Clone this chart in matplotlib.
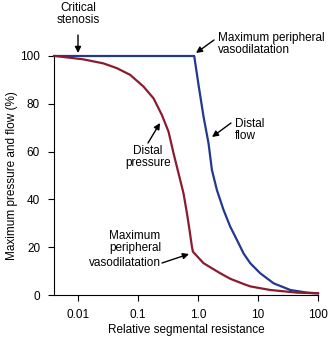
import numpy as np
import matplotlib
matplotlib.use('Agg')
from matplotlib import pyplot as plt

plt.rcParams['font.family'] = ['Liberation Sans', 'DejaVu Sans']

# values
flow_x = [0.004, 0.867, 1.02, 1.24, 1.5, 1.71, 2.07, 2.67, 3.45, 4.47, 5.75, 7.44, 10.9, 18.2, 34.5,
          65.6, 100]
flow_y = [100, 100, 88.1, 74.6, 63.5, 52.3, 43.9, 35.6, 28.6, 23.0, 17.4, 13.3, 9.1, 4.9, 2.1,
          1.0, 0.7]

pressure_x = [0.0042, 0.0123, 0.0267, 0.0447, 0.0744, 0.124, 0.182, 0.251, 0.324, 0.392, 0.475, 0.575,
              0.656, 0.724, 0.794, 0.826, 1.24, 2.35, 3.45, 5.76, 7.44, 16.0, 44.7, 100]
pressure_y = [100, 98.6, 96.9, 94.9, 92.1, 87.2, 82.3, 75.3, 68.3, 59.3, 50.9, 42.5,
              34.2, 27.2, 20.2, 18.1, 13.3, 9.1, 6.8, 4.6, 3.6, 2.1, 1.0, 0.7]

x_ticks = [0.01, 0.1, 1.0, 10, 100]
x_tick_labels = ['0.01', '0.1', '1.0', '10', '100']
y_ticks = [0, 20, 40, 60, 80, 100]

blue = '#23388f'
red = '#8a1c30'

W, H = 329, 341
fig = plt.figure(figsize=(W / 100, H / 100), dpi=100)
ax = fig.add_axes([54 / W, 1 - 295 / H, (318 - 54) / W, (295 - 56) / H])


def px(x, y):
    # pixel position in the image -> figure fraction
    return (x / W, 1 - y / H)


ax.plot(flow_x, flow_y, color=blue, lw=1.6, clip_on=False, zorder=3)
ax.plot(pressure_x, pressure_y, color=red, lw=1.6, clip_on=False, zorder=3)

ax.set_xscale('log')
ax.set_xlim(0.004, 100)
ax.set_ylim(0, 100)
ax.set_xticks(x_ticks)
ax.set_xticklabels(x_tick_labels)
ax.minorticks_off()
ax.set_yticks(y_ticks)
ax.spines['top'].set_visible(False)
ax.spines['right'].set_visible(False)
ax.tick_params(direction='out', length=4, width=0.8, labelsize=8.5, pad=6)
ax.set_xlabel('Relative segmental resistance', fontsize=8.5)
ax.set_ylabel('Maximum pressure and flow (%)', fontsize=8.5)
ax.xaxis.set_label_coords(0.5, -(330 - 295) / (295 - 56), transform=ax.transAxes)
ax.yaxis.set_label_coords(-(54 - 12) / (318 - 54), 0.5, transform=ax.transAxes)
ax.xaxis.label.set_va('center')
ax.yaxis.label.set_va('center')

fs = 8.5
arrow = dict(arrowstyle='-|>', color='black', lw=1.0, mutation_scale=9, shrinkA=0, shrinkB=0)

fig.text(*px(78, 14), 'Critical\nstenosis', ha='center', va='center', fontsize=fs, linespacing=1.1)
ax.annotate('', xy=px(78, 53), xycoords='figure fraction', xytext=px(78, 35),
            textcoords='figure fraction', arrowprops=arrow)

fig.text(*px(218, 44), 'Maximum peripheral\nvasodilatation', ha='left', va='center', fontsize=fs,
         linespacing=1.1)
ax.annotate('', xy=px(196, 53), xycoords='figure fraction', xytext=px(214, 40),
            textcoords='figure fraction', arrowprops=arrow)

fig.text(*px(235, 130), 'Distal\nflow', ha='left', va='center', fontsize=fs, linespacing=1.1)
ax.annotate('', xy=px(212, 137), xycoords='figure fraction', xytext=px(231, 123),
            textcoords='figure fraction', arrowprops=arrow)

fig.text(*px(148, 157), 'Distal\npressure', ha='center', va='center', fontsize=fs, linespacing=1.1)
ax.annotate('', xy=px(160, 123), xycoords='figure fraction', xytext=px(148, 143),
            textcoords='figure fraction', arrowprops=arrow)

fig.text(*px(135, 242), 'Maximum\nperipheral', ha='center', va='center', fontsize=fs, linespacing=1.1)
fig.text(*px(161, 263), 'vasodilatation', ha='right', va='center', fontsize=fs)
ax.annotate('', xy=px(189, 254), xycoords='figure fraction', xytext=px(162, 263),
            textcoords='figure fraction', arrowprops=arrow)

fig.savefig('out.png', dpi=100)
